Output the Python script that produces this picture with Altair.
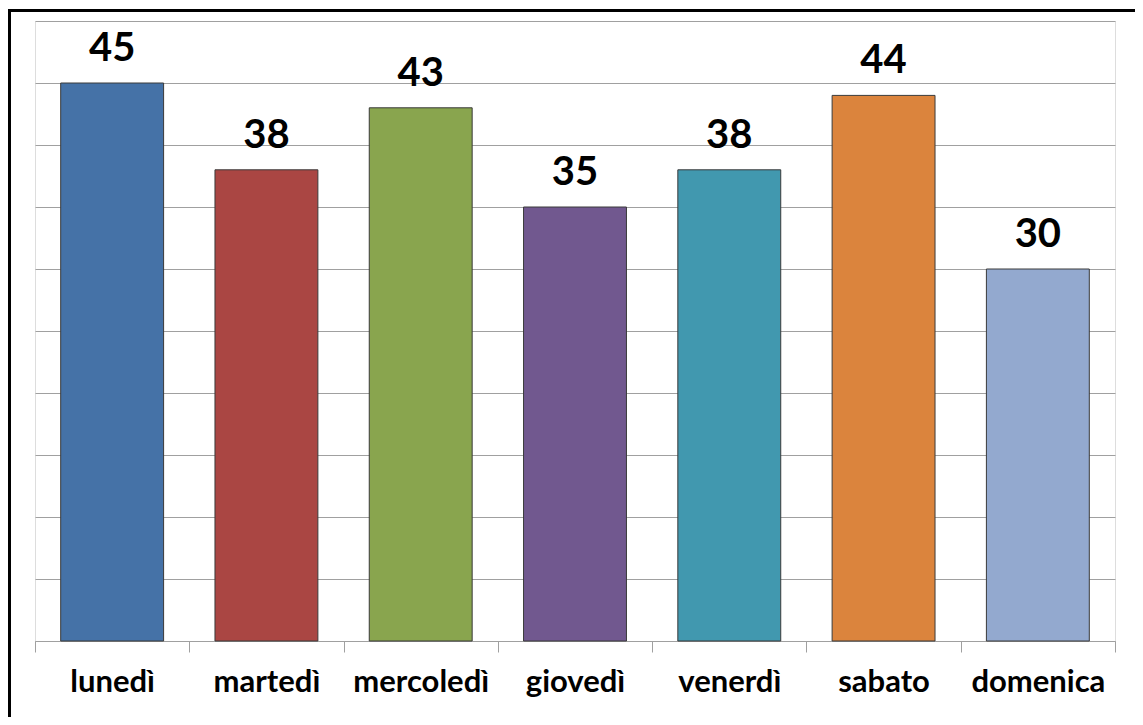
import altair as alt
import pandas as pd

days = ["lunedì", "martedì", "mercoledì", "giovedì", "venerdì", "sabato", "domenica"]
values = [45, 38, 43, 35, 38, 44, 30]
colors = ["#4572A7", "#AA4643", "#89A54E", "#71588F", "#4198AF", "#DB843D", "#93A9CF"]

df = pd.DataFrame({"giorno": days, "valore": values})

W, H = 1080, 620
PAD_L, PAD_T, PAD_R, PAD_B = 27, 13, 20, 76
FONT = "Lato"

x = alt.X("giorno:N", sort=days, title=None,
          scale=alt.Scale(paddingInner=0, paddingOuter=0),
          axis=alt.Axis(labelAngle=0, labelFont=FONT, labelFontSize=31, labelFontWeight="bold",
                        labelColor="#000000", labelBaseline="alphabetic", labelPadding=39,
                        tickBand="extent", tickSize=11,
                        tickColor="#a0a0a0", domainColor="#a0a0a0", grid=False))
y = alt.Y("valore:Q", title=None,
          scale=alt.Scale(domain=[0, 50], nice=False),
          axis=alt.Axis(values=list(range(0, 51, 5)), labels=False, ticks=False, domain=False,
                        grid=True, gridColor="#a0a0a0", gridWidth=1))

bars = alt.Chart(df).mark_bar(stroke="#3a3a3a", strokeWidth=1,
                              width=alt.RelativeBandSize(0.667)).encode(
    x=x, y=y,
    color=alt.Color("giorno:N", sort=days, scale=alt.Scale(domain=days, range=colors), legend=None),
)

labels = alt.Chart(df).mark_text(font=FONT, fontSize=40, fontWeight="bold", color="#000000",
                                 baseline="alphabetic", dy=-22).encode(
    x=alt.X("giorno:N", sort=days), y=alt.Y("valore:Q"), text="valore:Q")

frame_top = alt.Chart(df).mark_rule(color="#000000", strokeWidth=3).encode(
    x=alt.value(-PAD_L), x2=alt.value(W + PAD_R), y=alt.value(-10.5))
frame_left = alt.Chart(df).mark_rule(color="#000000", strokeWidth=3).encode(
    x=alt.value(-25.5), y=alt.value(-12), y2=alt.value(H + PAD_B))

chart = alt.layer(bars, labels, frame_top, frame_left).properties(
    width=W, height=H,
    autosize=alt.AutoSizeParams(type="none"),
    padding={"left": PAD_L, "top": PAD_T, "right": PAD_R, "bottom": PAD_B},
).configure_view(stroke=None).configure(background="#ffffff")

chart.save("out.html", embed_options={"renderer": "svg", "actions": False})
